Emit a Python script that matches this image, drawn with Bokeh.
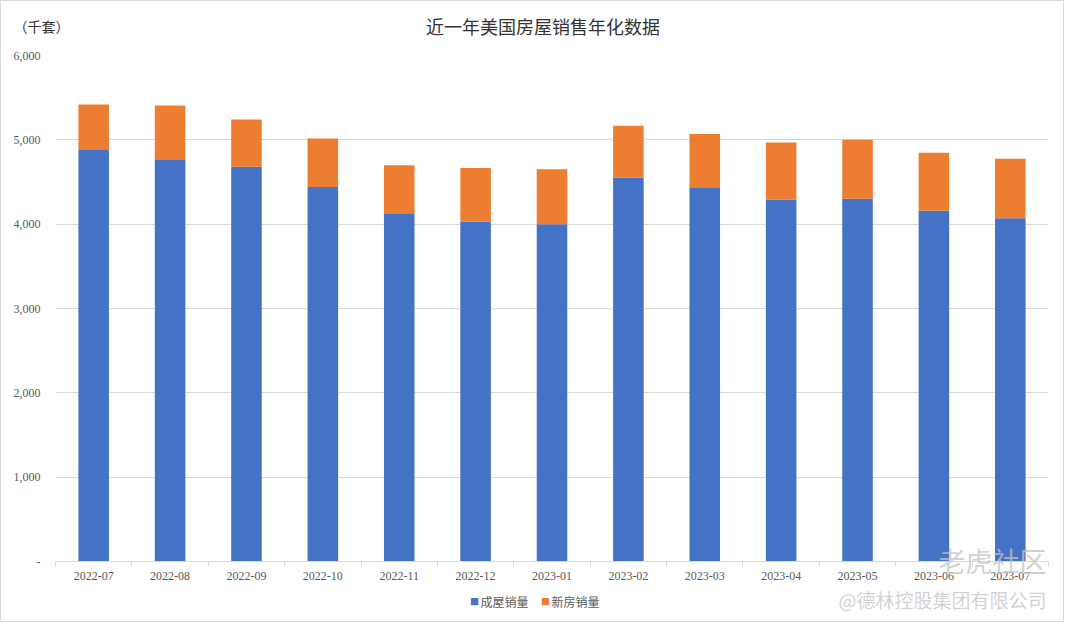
from bokeh.plotting import figure
from bokeh.models import ColumnDataSource, FixedTicker, CustomJSTickFormatter, Range1d
from bokeh.core.properties import value
from bokeh.embed import file_html
from bokeh.resources import INLINE

months = ["2022-07", "2022-08", "2022-09", "2022-10", "2022-11", "2022-12", "2023-01",
          "2023-02", "2023-03", "2023-04", "2023-05", "2023-06", "2023-07"]
existing = [4880, 4770, 4680, 4440, 4120, 4030, 4000, 4550, 4430, 4290, 4300, 4160, 4070]
new_homes = [540, 636, 562, 577, 578, 635, 650, 617, 639, 679, 700, 686, 706]
series_names = ["成屋销量", "新房销量"]
colors = ["#4472C4", "#ED7D31"]
y_ticks = [0, 1000, 2000, 3000, 4000, 5000, 6000]
title_text = "近一年美国房屋销售年化数据"
unit_text = "（千套）"
watermark_texts = ["老虎社区", "@德林控股集团有限公司"]

n = len(months)
xs = [i + 0.5 for i in range(n)]
src = ColumnDataSource(dict(x=xs, existing=existing, new=new_homes))

W, H = 1064, 622
BL, BR, BT, BB = 54, 17, 54, 62
FW, FH = W - BL - BR, H - BT - BB

p = figure(width=W, height=H, output_backend="svg", toolbar_location=None,
           x_range=(0, n), y_range=(0, 6000),
           min_border_left=BL, min_border_right=BR, min_border_top=BT, min_border_bottom=BB)
p.styles = {"border": "1px solid #d9d9d9"}
# pixel ranges for free-standing texts (1 unit = 1 px, origin at frame bottom-left)
p.extra_x_ranges = {"px": Range1d(0, FW)}
p.extra_y_ranges = {"py": Range1d(0, FH)}

r = p.vbar_stack(["existing", "new"], x="x", width=0.4, source=src, color=colors,
                 line_color=None)

serif = "Liberation Serif"
cjk = "Noto Sans CJK SC"

# x axis
labels = {x: m for x, m in zip(xs, months)}
p.xaxis.ticker = FixedTicker(ticks=xs, minor_ticks=list(range(n + 1)))
p.xaxis.major_label_overrides = labels
p.xaxis.major_tick_line_color = None
p.xaxis.major_tick_out = 0
p.xaxis.major_tick_in = 0
p.xaxis.minor_tick_out = 5
p.xaxis.minor_tick_in = 0
p.xaxis.minor_tick_line_color = "#d9d9d9"
p.xaxis.axis_line_color = "#d9d9d9"
p.xaxis.major_label_text_font = serif
p.xaxis.major_label_text_font_size = "12px"
p.xaxis.major_label_text_color = "#595959"
p.xaxis.major_label_standoff = 5

# y axis
p.yaxis.ticker = FixedTicker(ticks=y_ticks)
p.yaxis.formatter = CustomJSTickFormatter(
    code="return tick == 0 ? '-' : tick.toLocaleString('en-US');")
p.yaxis.axis_line_color = None
p.yaxis.major_tick_line_color = None
p.yaxis.major_tick_out = 0
p.yaxis.major_tick_in = 0
p.yaxis.minor_tick_line_color = None
p.yaxis.major_label_text_font = serif
p.yaxis.major_label_text_font_size = "12px"
p.yaxis.major_label_text_color = "#595959"
p.yaxis.major_label_standoff = 15

p.xgrid.grid_line_color = None
p.ygrid.grid_line_color = "#d9d9d9"
p.outline_line_color = None


def free_text(x, y, txt, size, color, align, alpha=1.0, style="normal"):
    p.text(x=[x], y=[y], text=[txt], x_range_name="px", y_range_name="py",
           text_font=value(cjk), text_font_size=size, text_color=color,
           text_alpha=alpha, text_align=align, text_baseline="middle",
           text_font_style=style, level="overlay")


free_text(FW / 2 - 9, FH + 30, title_text, "18px", "#333333", "center")
free_text(-42, FH + 30, unit_text, "14px", "#333333", "left")
free_text(937, 1, watermark_texts[0], "27px", "#c4c4c4", "center", 0.75)
free_text(887, -38, watermark_texts[1], "19px", "#c4c4c4", "center", 0.75)

# legend below the axis
leg_x = [419, 490]
leg_y = -39.5
for i in range(2):
    free_text(leg_x[i], leg_y, "■", "9px", colors[i], "center")
    free_text(leg_x[i] + 6, leg_y, series_names[i], "12px", "#595959", "left")

open("out.html", "w").write(file_html(p, INLINE))
